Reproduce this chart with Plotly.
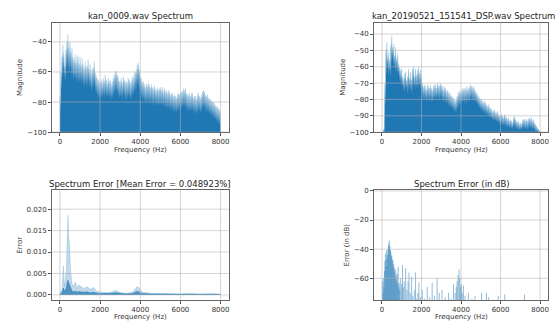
import plotly.graph_objects as go

W, H = 558, 325
BLUE = "#1f77b4"

# ---------------- data ----------------
# spectrum peaks on a 50 Hz grid and the dips between them (25 Hz offset)
f_peak = list(range(0, 8001, 50))
f_dip = list(range(25, 8000, 50))

peak1 = [-76, -60, -50, -42, -48, -56, -45, -40, -35, -44, -40, -47, -44, -50, -52, -48, -54, -50, -49, -55,
         -50, -56, -51, -55, -58, -53, -57, -56, -52, -58, -55, -61, -58, -57, -53, -60, -62, -64, -65, -66,
         -67, -65, -67, -64, -66, -62, -65, -67, -64, -66, -65, -68, -66, -64, -62, -60, -59, -62, -63, -66,
         -66, -64, -67, -63, -65, -67, -66, -67, -64, -65, -67, -66, -63, -64, -61, -60, -58, -55, -54, -58,
         -63, -64, -67, -66, -68, -70, -68, -69, -67, -69, -70, -68, -70, -71, -69, -71, -72, -70, -72, -71,
         -70, -72, -70, -73, -71, -73, -72, -74, -72, -73, -75, -74, -74, -76, -75, -76, -77, -75, -74, -75,
         -74, -73, -73, -71, -72, -71, -74, -75, -75, -74, -76, -74, -74, -77, -76, -76, -78, -75, -74, -76,
         -77, -75, -73, -72, -73, -75, -76, -75, -77, -78, -78, -79, -80, -80, -81, -82, -83, -83, -84, -85,
         -86]
dip1 = [-88, -72, -64, -60, -64, -66, -58, -57, -60, -61, -59, -63, -63, -66, -65, -65, -67, -66, -68, -67,
        -66, -69, -67, -69, -71, -68, -70, -70, -67, -71, -70, -73, -72, -70, -69, -73, -75, -76, -78, -78,
        -78, -77, -78, -76, -78, -75, -77, -78, -76, -78, -77, -79, -78, -76, -75, -73, -73, -75, -76, -78,
        -77, -77, -79, -75, -77, -79, -78, -79, -77, -77, -79, -78, -76, -76, -74, -73, -72, -69, -70, -72,
        -75, -77, -79, -79, -80, -81, -80, -81, -80, -81, -82, -80, -82, -83, -81, -82, -83, -82, -83, -83,
        -82, -83, -82, -84, -83, -84, -84, -85, -84, -85, -86, -85, -86, -87, -86, -87, -88, -86, -86, -86,
        -85, -85, -84, -83, -84, -84, -86, -86, -87, -86, -87, -86, -86, -88, -87, -88, -89, -87, -86, -88,
        -88, -86, -85, -84, -85, -87, -87, -87, -88, -89, -89, -90, -91, -91, -92, -93, -94, -94, -95, -96]

peak2 = [-100, -100, -98, -70, -50, -45, -55, -51, -56, -47, -41, -48, -46, -53, -48, -55, -52, -58, -60, -62,
         -61, -66, -67, -64, -63, -68, -66, -61, -67, -63, -68, -61, -60, -66, -61, -65, -62, -60, -64, -62,
         -66, -70, -72, -71, -72, -74, -71, -72, -73, -71, -73, -74, -72, -71, -71, -73, -70, -71, -72, -70,
         -71, -72, -74, -72, -73, -75, -74, -75, -77, -76, -78, -78, -79, -80, -81, -80, -78, -76, -75, -76,
         -74, -75, -73, -74, -73, -74, -72, -74, -73, -72, -71, -72, -73, -72, -74, -75, -76, -77, -78, -79,
         -80, -80, -81, -82, -81, -82, -83, -84, -83, -85, -85, -86, -87, -87, -86, -88, -88, -87, -89, -90,
         -90, -89, -90, -91, -89, -90, -91, -92, -91, -93, -92, -93, -94, -91, -90, -92, -93, -94, -93, -95,
         -94, -95, -93, -92, -92, -93, -92, -93, -92, -91, -92, -91, -93, -92, -94, -95, -96, -97, -98, -99,
         -100]
dip2 = [-100, -100, -100, -85, -66, -60, -66, -63, -67, -60, -56, -60, -60, -64, -61, -66, -64, -69, -70, -72,
        -72, -75, -76, -74, -73, -77, -75, -72, -76, -74, -77, -72, -72, -75, -72, -74, -73, -72, -74, -74,
        -77, -80, -81, -80, -81, -82, -80, -81, -82, -80, -82, -82, -81, -80, -80, -81, -79, -80, -81, -79,
        -80, -81, -82, -81, -82, -83, -83, -84, -85, -85, -86, -86, -87, -88, -88, -88, -86, -85, -84, -84,
        -83, -83, -82, -83, -82, -83, -81, -82, -82, -81, -80, -81, -82, -81, -82, -83, -84, -85, -86, -87,
        -87, -88, -88, -89, -89, -90, -90, -91, -91, -92, -92, -93, -93, -94, -93, -94, -95, -94, -95, -96,
        -96, -96, -96, -97, -96, -97, -97, -98, -97, -98, -98, -98, -99, -97, -97, -98, -98, -99, -99, -99,
        -99, -99, -98, -98, -98, -99, -98, -99, -98, -98, -98, -98, -99, -98, -99, -100, -100, -100, -100, -100]

f3 = [0, 100, 170, 220, 270, 320, 360, 400, 440, 480, 530, 600, 680, 770, 850, 930, 1070, 1180, 1350, 1520,
      1680, 1850, 2100, 2400, 2600, 2770, 3000, 3300, 3600, 3850, 3930, 4100, 4500, 5000, 5500, 6000, 6500, 7000, 7500, 8000]
peak3 = [0.0003, 0.0012, 0.0068, 0.0020, 0.0040, 0.0060, 0.0130, 0.0186, 0.0135, 0.0118, 0.0057, 0.0027, 0.0019, 0.0030,
         0.0015, 0.0023, 0.0019, 0.0015, 0.0019, 0.0013, 0.0017, 0.0008, 0.0006, 0.0005, 0.0007, 0.0011, 0.0005, 0.0004,
         0.0006, 0.0019, 0.0017, 0.0007, 0.0004, 0.0003, 0.0003, 0.0002, 0.0003, 0.0002, 0.0003, 0.0002]
body3 = [0.0002, 0.0004, 0.0016, 0.0008, 0.0012, 0.0016, 0.0028, 0.0034, 0.0028, 0.0022, 0.0014, 0.0009, 0.0007, 0.0009,
         0.0006, 0.0008, 0.0007, 0.0006, 0.0007, 0.0005, 0.0006, 0.0004, 0.0003, 0.0003, 0.0004, 0.0005, 0.0003, 0.0002,
         0.0003, 0.0008, 0.0007, 0.0003, 0.0002, 0.0002, 0.0002, 0.0001, 0.0002, 0.0001, 0.0002, 0.0001]

# error in dB: individual spikes (frequency, top value)
f4 = [0, 25, 50, 75, 100, 125, 150, 175, 200, 225, 250, 275, 300, 325, 350, 375, 400, 425, 450, 475,
      500, 525, 550, 575, 600, 625, 650, 675, 700, 725, 750, 775, 800, 825, 850, 875, 900, 950, 1000, 1040,
      1080, 1130, 1200, 1260, 1320, 1370, 1430, 1500, 1560, 1640, 1700, 1760, 1820, 1870, 1950, 2040, 2150, 2290, 2420, 2540,
      2650, 2790, 2900, 3040, 3200, 3370, 3500, 3620, 3700, 3760, 3800, 3850, 3900, 3940, 3980, 4020, 4060, 4120, 4200, 4370,
      4550, 4710, 5040, 5290, 5400, 5880, 6210, 7210]
peak4 = [-76, -62, -70, -60, -66, -55, -48, -43, -52, -41, -47, -44, -40, -38, -36, -34, -38, -40, -42, -45,
         -44, -48, -47, -52, -50, -53, -56, -60, -54, -58, -62, -57, -64, -52, -66, -63, -68, -60, -64, -51,
         -66, -62, -53, -68, -62, -56, -70, -59, -72, -68, -56, -74, -70, -63, -73, -68, -74, -66, -73, -63,
         -72, -60, -70, -68, -73, -70, -74, -64, -70, -66, -62, -58, -54, -60, -66, -64, -70, -65, -72, -70,
         -74, -72, -70, -70, -73, -72, -71, -71]

x_ticks = [0, 2000, 4000, 6000, 8000]
y_ticks1 = [-100, -80, -60, -40]
y_ticks2 = [-100, -90, -80, -70, -60, -50, -40]
y_ticks3 = [0.0, 0.005, 0.010, 0.015, 0.020]
y_ticks4 = [-60, -40, -20, 0]

titles = ["kan_0009.wav Spectrum", "kan_20190521_151541_DSP.wav Spectrum",
          "Spectrum Error [Mean Error = 0.048923%]", "Spectrum Error (in dB)"]
ylabels = ["Magnitude", "Magnitude", "Error", "Error (in dB)"]
xlabel = "Frequency (Hz)"

# ---------------- layout geometry (pixels) ----------------
panels = [
    dict(x0=52, x1=229, y0=20, y1=132, yr=[-100, -27.2], yt=y_ticks1, fmt=None),
    dict(x0=374.7, x1=549, y0=20, y1=132, yr=[-100, -33.0], yt=y_ticks2, fmt=None),
    dict(x0=52, x1=229, y0=191.3, y1=303.7, yr=[-0.00123, 0.02443], yt=y_ticks3, fmt=".3f"),
    dict(x0=374.7, x1=549, y0=191.3, y1=303.7, yr=[-75.0, 0.5], yt=y_ticks4, fmt=None),
]

fig = go.Figure()
FONT = "DejaVu Sans"


def merged(fa, ya, fb, yb):
    pts = sorted(zip(list(fa) + list(fb), list(ya) + list(yb)))
    return [p[0] for p in pts], [p[1] for p in pts]


def spectrum(idx, fa, ya, fb, yb, floor):
    xa = "x" if idx == 1 else f"x{idx}"
    yax = "y" if idx == 1 else f"y{idx}"
    xs, ys = merged(fa, ya, fb, yb)
    fig.add_trace(go.Scatter(x=xs, y=[floor] * len(xs), mode="lines", line=dict(width=0),
                             xaxis=xa, yaxis=yax, hoverinfo="skip", showlegend=False))
    fig.add_trace(go.Scatter(x=xs, y=ys, mode="lines", line=dict(width=0.3, color="rgba(31,119,180,0.5)"),
                             fill="tonexty", fillcolor=BLUE, xaxis=xa, yaxis=yax, showlegend=False))


spectrum(1, f_peak, peak1, f_dip, dip1, -100)
spectrum(2, f_peak, peak2, f_dip, dip2, -100)

# error panel: solid core + faint peaks
fig.add_trace(go.Scatter(x=f3, y=body3, mode="lines", line=dict(width=0.6, color="rgba(31,119,180,0.9)"),
                         fill="tozeroy", fillcolor="rgba(31,119,180,0.8)", xaxis="x3", yaxis="y3",
                         showlegend=False))
fig.add_trace(go.Scatter(x=f3, y=peak3, mode="lines", line=dict(width=0.5, color="rgba(31,119,180,0.35)"),
                         fill="tonexty", fillcolor="rgba(31,119,180,0.28)", xaxis="x3", yaxis="y3",
                         showlegend=False))

# error in dB: stems
sx, sy = [], []
for fv, tv in zip(f4, peak4):
    sx += [fv, fv, None]
    sy += [-76, tv, None]
fig.add_trace(go.Scatter(x=sx, y=sy, mode="lines", line=dict(width=0.9, color="rgba(31,119,180,0.55)"),
                         xaxis="x4", yaxis="y4", showlegend=False, connectgaps=False))

layout = dict(width=W, height=H, margin=dict(l=0, r=0, t=0, b=0),
              paper_bgcolor="white", plot_bgcolor="white",
              font=dict(family=FONT, size=7, color="#333"), showlegend=False)

shapes = []
annotations = []
for i, p in enumerate(panels, start=1):
    xk = "xaxis" if i == 1 else f"xaxis{i}"
    yk = "yaxis" if i == 1 else f"yaxis{i}"
    xref = "x" if i == 1 else f"x{i}"
    yref = "y" if i == 1 else f"y{i}"
    layout[xk] = dict(domain=[p["x0"] / W, p["x1"] / W], range=[-400, 8400],
                      anchor=yref, tickvals=x_ticks, ticks="outside", ticklen=3,
                      tickcolor="#555", tickfont=dict(size=7, color="#333"),
                      showgrid=False, zeroline=False, showline=True, mirror=True,
                      linecolor="#666", linewidth=0.8)
    layout[yk] = dict(domain=[1 - p["y1"] / H, 1 - p["y0"] / H], range=p["yr"],
                      anchor=xref, tickvals=p["yt"], ticks="outside", ticklen=3,
                      tickcolor="#555", tickfont=dict(size=7, color="#333"),
                      tickformat=p["fmt"] if p["fmt"] else None,
                      showgrid=False, zeroline=False, showline=True, mirror=True,
                      linecolor="#666", linewidth=0.8)
    for xv in x_ticks:
        shapes.append(dict(type="line", xref=xref, yref=f"{yref} domain", x0=xv, x1=xv, y0=0, y1=1,
                           line=dict(color="rgba(176,176,176,0.7)", width=0.8), layer="above"))
    for yv in p["yt"]:
        shapes.append(dict(type="line", xref=f"{xref} domain", yref=yref, x0=0, x1=1, y0=yv, y1=yv,
                           line=dict(color="rgba(176,176,176,0.7)", width=0.8), layer="above"))

title_pos = [(140.5, 13.3), (464, 13.3), (140.5, 185.3), (463, 184.5)]
ylab_x = [20.7, 344, 20.7, 348]
xlab_y = [150.3, 150.3, 321.3, 321.3]
for i, p in enumerate(panels):
    tx, ty = title_pos[i]
    annotations.append(dict(text=titles[i], x=tx / W, y=1 - ty / H, xref="paper", yref="paper",
                            xanchor="center", yanchor="middle", showarrow=False,
                            font=dict(size=8.5, color="#222")))
    annotations.append(dict(text=ylabels[i], x=ylab_x[i] / W, y=1 - (p["y0"] + p["y1"]) / 2 / H,
                            xref="paper", yref="paper", xanchor="center", yanchor="middle",
                            textangle=-90, showarrow=False, font=dict(size=7, color="#333")))
    annotations.append(dict(text=xlabel, x=(p["x0"] + p["x1"]) / 2 / W, y=1 - xlab_y[i] / H,
                            xref="paper", yref="paper", xanchor="center", yanchor="middle",
                            showarrow=False, font=dict(size=7, color="#333")))

layout["shapes"] = shapes
layout["annotations"] = annotations
fig.update_layout(**layout)
fig.write_html("out.html", config={"displayModeBar": False},
               post_script="document.body.style.margin='0px';document.body.style.overflow='hidden';")
